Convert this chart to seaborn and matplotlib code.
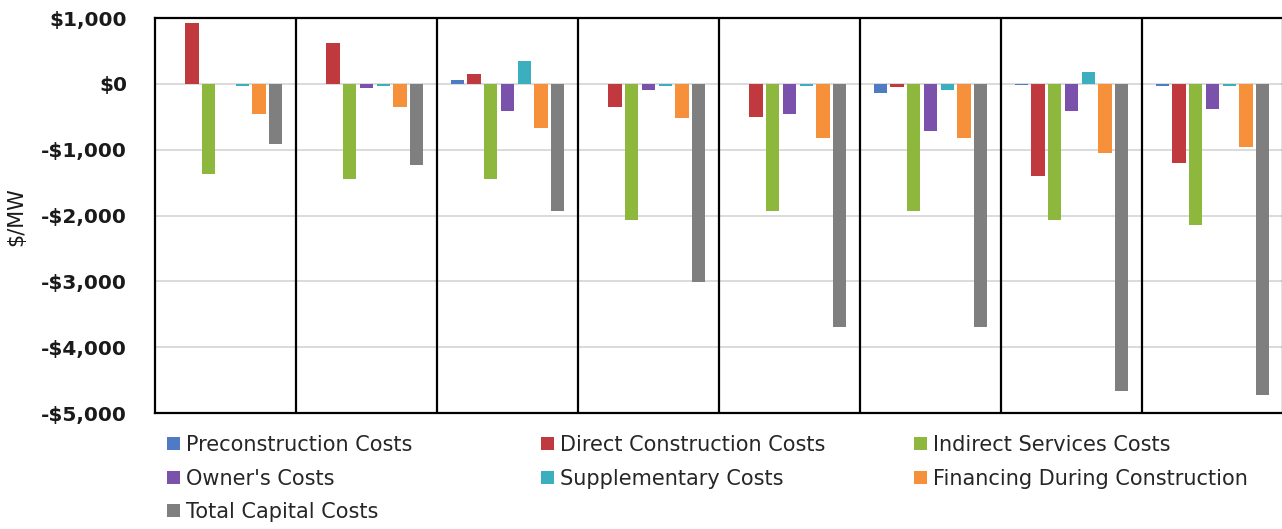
import pandas as pd
import seaborn as sns
import matplotlib.pyplot as plt
from matplotlib.ticker import FuncFormatter

# values in $/MW, one entry per case (8 cases)
cases = ["Case 1", "Case 2", "Case 3", "Case 4", "Case 5", "Case 6", "Case 7", "Case 8"]
preconstruction = [0, 0, 60, 0, 0, -140, -20, -40]
direct_construction = [920, 620, 150, -350, -510, -50, -1400, -1200]
indirect_services = [-1370, -1440, -1440, -2070, -1930, -1930, -2070, -2140]
owners = [0, -70, -410, -90, -460, -710, -410, -380]
supplementary = [-40, -40, 350, -40, -40, -90, 180, -40]
financing = [-460, -350, -670, -520, -830, -830, -1050, -960]
total_capital = [-910, -1230, -1930, -3010, -3690, -3690, -4670, -4720]

series_names = ["Preconstruction Costs", "Direct Construction Costs", "Indirect Services Costs",
                "Owner's Costs", "Supplementary Costs", "Financing During Construction",
                "Total Capital Costs"]
series_values = [preconstruction, direct_construction, indirect_services, owners,
                 supplementary, financing, total_capital]
colors = ["#4F7BC4", "#C0393F", "#8DB83D", "#7B52AB", "#3BAFBE", "#F7903A", "#7F7F7F"]

rows = []
for name, vals in zip(series_names, series_values):
    for c, v in zip(cases, vals):
        rows.append({"case": c, "series": name, "value": v})
df = pd.DataFrame(rows)

sns.set_style("white")
plt.rcParams["font.family"] = ["DejaVu Sans"]

fig = plt.figure(figsize=(12.82, 5.29), dpi=100)
ax = fig.add_axes([155 / 1282, 116 / 529, 1128 / 1282, 395 / 529])

sns.barplot(data=df, x="case", y="value", hue="series", hue_order=series_names,
            palette=colors, saturation=1, width=0.83, gap=0.2, linewidth=0,
            ax=ax, zorder=3)

handles, labels = ax.get_legend_handles_labels()
ax.get_legend().remove()

ax.set_ylim(-5000, 1000)
ax.set_xlim(-0.5, len(cases) - 0.5)
ax.set_yticks(range(-5000, 1001, 1000))
ax.yaxis.set_major_formatter(FuncFormatter(
    lambda v, p: ("-" if v < 0 else "") + "${:,.0f}".format(abs(v))))
ax.grid(axis="y", color="#D4D4D4", lw=1.2, zorder=0)
ax.set_axisbelow(True)
for k in range(len(cases) - 1):
    ax.axvline(k + 0.5, color="black", lw=1.6, zorder=4)
for s in ax.spines.values():
    s.set_color("black")
    s.set_linewidth(1.6)

ax.set_xticks([])
ax.set_xlabel("")
ax.tick_params(axis="y", length=0, pad=20, labelsize=14.5)
for t in ax.get_yticklabels():
    t.set_fontweight("bold")
    t.set_color("#1a1a1a")
ax.set_ylabel("$/MW", fontsize=15, color="#1a1a1a")
ax.yaxis.set_label_coords(-0.1144, 0.496)

# legend laid out in three fixed columns like the original
cols = [[0, 3, 6], [1, 4], [2, 5]]
col_x = [167 / 1282, 541 / 1282, 914 / 1282]
for idx, x in zip(cols, col_x):
    fig.legend([handles[i] for i in idx], [labels[i] for i in idx],
               loc="upper left", bbox_to_anchor=(x, 1 - 435 / 529), frameon=False,
               fontsize=15, handlelength=0.6, handleheight=0.6, handletextpad=0.3,
               labelspacing=0.65, borderpad=0, borderaxespad=0)

fig.savefig("out.png", dpi=100)
